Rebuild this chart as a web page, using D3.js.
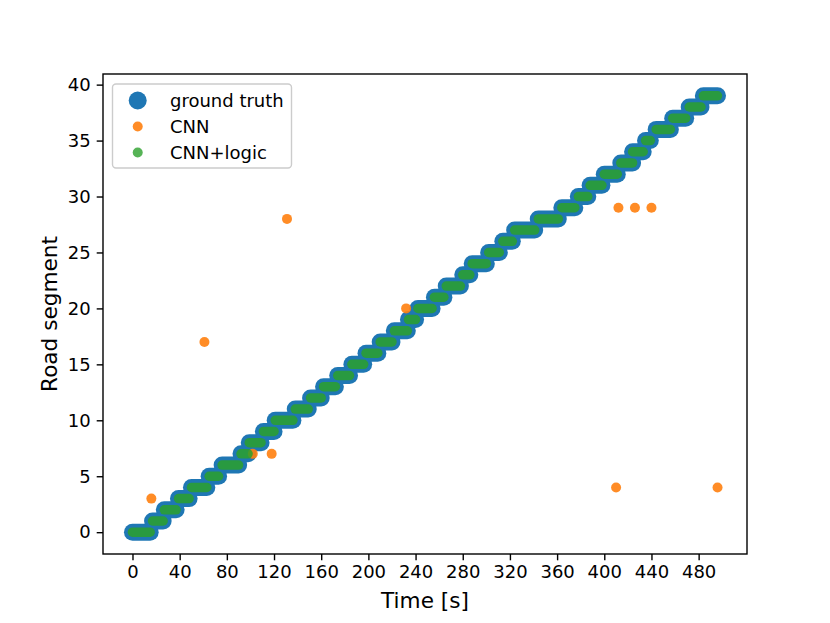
<!DOCTYPE html>
<html>
<head>
<meta charset="utf-8">
<script src="https://cdn.jsdelivr.net/npm/d3@7"></script>
<style>
  body { margin: 0; background: #fff; }
  text { font-family: "DejaVu Sans", sans-serif; }
</style>
</head>
<body>
<div id="chart"></div>
<script>
/*** data ***/
// ground truth: time span [start, end] spent on each road segment
var segments = d3.range(0, 40);
var segStart = [0, 17, 27, 39, 50, 65, 76, 92, 99, 111, 121, 138, 151, 162, 174, 186, 198, 210, 222, 234,
                242, 256, 266, 280, 288, 302, 314, 324, 344, 364, 378, 388, 400, 414, 424, 435, 444, 458, 472, 484];
var segEnd   = [15, 26, 37, 48, 63, 73, 90, 98, 109, 120, 136, 149, 160, 172, 184, 196, 208, 220, 233, 240,
                254, 264, 278, 286, 300, 311, 322, 341, 361, 375, 386, 398, 411, 424, 433, 439, 456, 469, 482, 496];
// CNN predictions that leave the ground truth (the rest sit under it)
var cnnTime = [16, 61, 102, 118, 131, 232, 410, 412, 426, 440, 496];
var cnnSeg  = [3, 17, 7, 7, 28, 20, 4, 29, 29, 29, 4];
var xTicks = [0, 40, 80, 120, 160, 200, 240, 280, 320, 360, 400, 440, 480];
var yTicks = [0, 5, 10, 15, 20, 25, 30, 35, 40];
var legendLabels = ["ground truth", "CNN", "CNN+logic"];

var blue = "#1f77b4", orange = "#ff7f0e", green = "#2ca02c";

var W = 830, H = 623;
var margin = {left: 103, right: 83, top: 74, bottom: 69};

var svg = d3.select("#chart").append("svg").attr("width", W).attr("height", H);

var x = d3.scaleLinear().domain([-25, 521]).range([margin.left, W - margin.right]);
var y = d3.scaleLinear().domain([-1.95, 40.95]).range([H - margin.bottom, margin.top]);

var plot = svg.append("g");

// ground truth pills
plot.selectAll("line.gt")
   .data(segments)
   .enter()
   .append("line")
   .attr("class", "gt")
   .attr("x1", function(d) { return x(segStart[d]); })
   .attr("x2", function(d) { return x(segEnd[d]); })
   .attr("y1", function(d) { return y(d); })
   .attr("y2", function(d) { return y(d); })
   .attr("stroke", blue)
   .attr("stroke-width", 17)
   .attr("stroke-linecap", "round");

// CNN outliers
plot.selectAll("circle.cnn")
   .data(cnnTime)
   .enter()
   .append("circle")
   .attr("class", "cnn")
   .attr("cx", function(d) { return x(d); })
   .attr("cy", function(d, i) { return y(cnnSeg[i]); })
   .attr("r", 5)
   .attr("fill", orange)
   .attr("fill-opacity", 0.9);

// CNN+logic follows the ground truth
plot.selectAll("line.logic")
   .data(segments)
   .enter()
   .append("line")
   .attr("class", "logic")
   .attr("x1", function(d) { return x(segStart[d]); })
   .attr("x2", function(d) { return x(segEnd[d]); })
   .attr("y1", function(d) { return y(d); })
   .attr("y2", function(d) { return y(d); })
   .attr("stroke", green)
   .attr("stroke-opacity", 0.85)
   .attr("stroke-width", 9.5)
   .attr("stroke-linecap", "round");

/*** axes ***/
var xAxis = svg.append("g")
   .attr("transform", "translate(0," + (H - margin.bottom) + ")")
   .call(d3.axisBottom(x).tickValues(xTicks).tickSize(6.3).tickPadding(5));
var yAxis = svg.append("g")
   .attr("transform", "translate(" + margin.left + ",0)")
   .call(d3.axisLeft(y).tickValues(yTicks).tickSize(6.3).tickPadding(6));

[xAxis, yAxis].forEach(function(a) {
  a.select(".domain").remove();
  a.selectAll(".tick line").attr("stroke", "#000").attr("stroke-width", 1.4);
  a.selectAll(".tick text").attr("fill", "#000").style("font-size", "18px")
   .style("font-family", "'DejaVu Sans', sans-serif");
});

svg.append("rect")
   .attr("x", margin.left).attr("y", margin.top)
   .attr("width", W - margin.left - margin.right)
   .attr("height", H - margin.top - margin.bottom)
   .attr("fill", "none").attr("stroke", "#000").attr("stroke-width", 1.4);

svg.append("text")
   .attr("x", (margin.left + W - margin.right) / 2).attr("y", 608)
   .attr("text-anchor", "middle").style("font-size", "21.6px")
   .text("Time [s]");
svg.append("text")
   .attr("transform", "translate(57," + (margin.top + H - margin.bottom) / 2 + ") rotate(-90)")
   .attr("text-anchor", "middle").style("font-size", "21.6px")
   .text("Road segment");

/*** legend ***/
var legend = svg.append("g");
legend.append("rect")
   .attr("x", 112.5).attr("y", 84).attr("width", 179).attr("height", 84)
   .attr("rx", 3.5)
   .attr("fill", "#fff").attr("fill-opacity", 0.8)
   .attr("stroke", "#cccccc").attr("stroke-width", 1.4);
var legColors = [blue, orange, green];
var legR = [9, 5, 5];
var legOpacity = [1, 0.9, 0.8];
legend.selectAll("circle")
   .data(legendLabels)
   .enter()
   .append("circle")
   .attr("cx", 137.7)
   .attr("cy", function(d, i) { return 100.5 + i * 26; })
   .attr("r", function(d, i) { return legR[i]; })
   .attr("fill", function(d, i) { return legColors[i]; })
   .attr("fill-opacity", function(d, i) { return legOpacity[i]; });
legend.selectAll("text")
   .data(legendLabels)
   .enter()
   .append("text")
   .attr("x", 170)
   .attr("y", function(d, i) { return 100.5 + i * 26; })
   .attr("dy", "0.35em")
   .style("font-size", "18px")
   .text(function(d) { return d; });
</script>
</body>
</html>
